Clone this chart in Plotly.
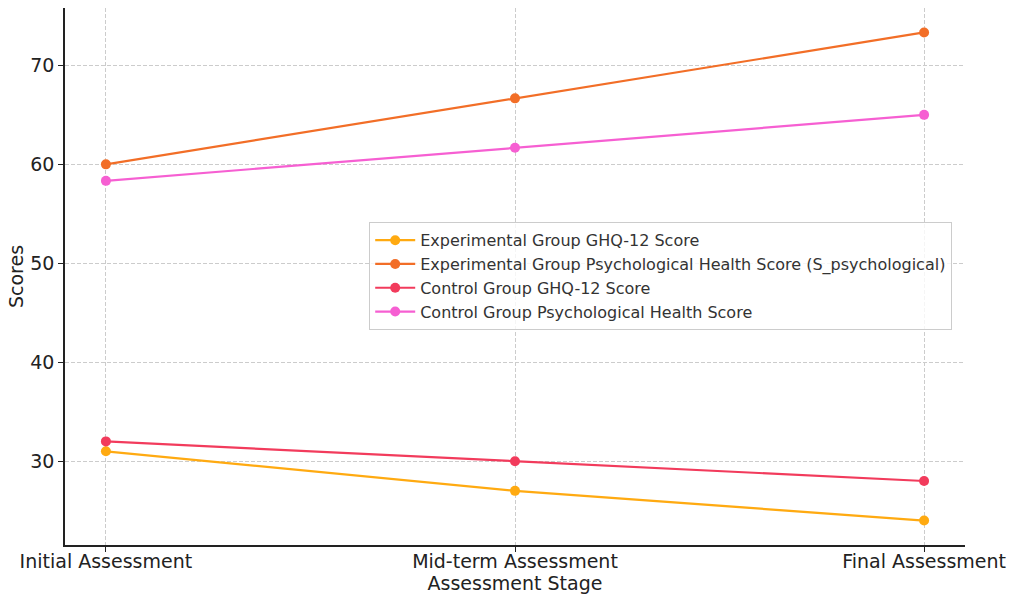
import plotly.graph_objects as go

stages = ["Initial Assessment", "Mid-term Assessment", "Final Assessment"]
exp_ghq = [31, 27, 24]
exp_psych = [60, 66.67, 73.33]
ctrl_ghq = [32, 30, 28]
ctrl_psych = [58.33, 61.67, 65]

series = [
    ("Experimental Group GHQ-12 Score", exp_ghq, "#FFAA11"),
    ("Experimental Group Psychological Health Score (S_psychological)", exp_psych, "#F26E27"),
    ("Control Group GHQ-12 Score", ctrl_ghq, "#F23B5C"),
    ("Control Group Psychological Health Score", ctrl_psych, "#F65FD2"),
]

fig = go.Figure()
for name, vals, col in series:
    fig.add_trace(go.Scatter(x=stages, y=vals, name=name, mode="lines+markers",
                             line=dict(color=col, width=2.2), marker=dict(color=col, size=10)))

font = "DejaVu Sans, sans-serif"
fig.update_layout(
    width=1011, height=597,
    margin=dict(l=65, r=46, t=8, b=52),
    plot_bgcolor="white", paper_bgcolor="white",
    font=dict(family=font, color="#222222"),
    legend=dict(x=0.338, y=0.601, xanchor="left", yanchor="top", itemwidth=40,
                bgcolor="rgba(255,255,255,0.8)", bordercolor="#cccccc", borderwidth=1,
                font=dict(size=16, color="#333333", family=font)),
    xaxis=dict(range=[-0.1, 2.1], showgrid=True, gridcolor="#cccccc", griddash="4px,2px", gridwidth=1,
               showline=True, linecolor="#222222", linewidth=1.5, ticks="outside", ticklen=5,
               tickcolor="#222222", tickfont=dict(size=19, color="#222222"), automargin=False,
               ticklabelstandoff=-7,
               title=dict(text="Assessment Stage", font=dict(size=19), standoff=6), zeroline=False),
    yaxis=dict(range=[21.53, 75.8], showgrid=True, gridcolor="#cccccc", griddash="4px,2px", gridwidth=1,
               showline=True, linecolor="#222222", linewidth=1.5, ticks="outside", ticklen=5,
               tickcolor="#222222", tickfont=dict(size=19, color="#222222"), tickvals=[30, 40, 50, 60, 70],
               automargin=False,
               title=dict(text="Scores", font=dict(size=19), standoff=2), zeroline=False),
)
fig.write_html("out.html", config={"displayModeBar": False},
               post_script="document.body.style.margin='0';document.body.style.overflow='hidden';")
